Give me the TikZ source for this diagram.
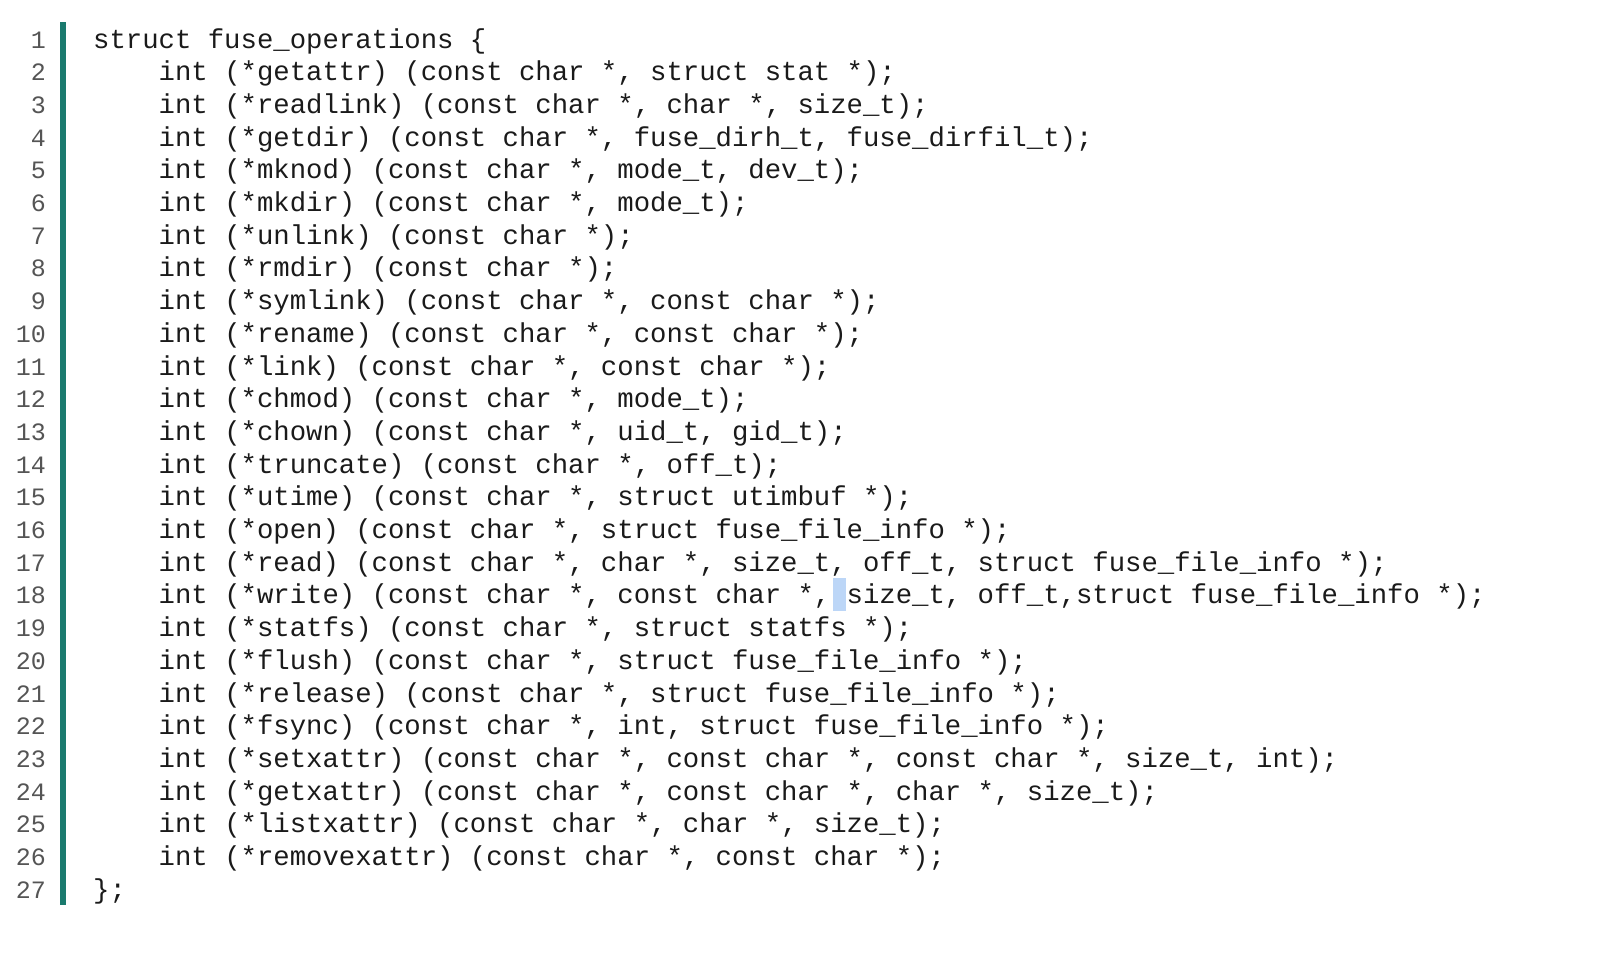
\documentclass[tikz,border=0pt]{standalone}
\usepackage{fontspec}
\newfontfamily\codefont{Liberation Mono}
\definecolor{barc}{HTML}{1A7A6E}
\definecolor{numc}{HTML}{555555}
\definecolor{txtc}{HTML}{1A1A1A}
\definecolor{hl}{HTML}{BCD6F7}
\tikzset{codeline/.style={anchor=base west,inner sep=0pt,text=txtc,font=\codefont\fontsize{27.3}{32}\selectfont},
lnum/.style={anchor=base east,inner sep=0pt,text=numc,font=\codefont\fontsize{25}{30}\selectfont}}
\begin{document}
\begin{tikzpicture}[x=1pt,y=1pt]
\useasboundingbox (0,0) rectangle (1600,-961);
\fill[hl] (833,-578) rectangle (846,-611);
\fill[barc] (60,-22) rectangle (66,-905);
\foreach \i/\t in {
1/{struct fuse\_operations \{},
2/{\ \ \ \ int (*getattr) (const char *, struct stat *);},
3/{\ \ \ \ int (*readlink) (const char *, char *, size\_t);},
4/{\ \ \ \ int (*getdir) (const char *, fuse\_dirh\_t, fuse\_dirfil\_t);},
5/{\ \ \ \ int (*mknod) (const char *, mode\_t, dev\_t);},
6/{\ \ \ \ int (*mkdir) (const char *, mode\_t);},
7/{\ \ \ \ int (*unlink) (const char *);},
8/{\ \ \ \ int (*rmdir) (const char *);},
9/{\ \ \ \ int (*symlink) (const char *, const char *);},
10/{\ \ \ \ int (*rename) (const char *, const char *);},
11/{\ \ \ \ int (*link) (const char *, const char *);},
12/{\ \ \ \ int (*chmod) (const char *, mode\_t);},
13/{\ \ \ \ int (*chown) (const char *, uid\_t, gid\_t);},
14/{\ \ \ \ int (*truncate) (const char *, off\_t);},
15/{\ \ \ \ int (*utime) (const char *, struct utimbuf *);},
16/{\ \ \ \ int (*open) (const char *, struct fuse\_file\_info *);},
17/{\ \ \ \ int (*read) (const char *, char *, size\_t, off\_t, struct fuse\_file\_info *);},
18/{\ \ \ \ int (*write) (const char *, const char *, size\_t, off\_t,struct fuse\_file\_info *);},
19/{\ \ \ \ int (*statfs) (const char *, struct statfs *);},
20/{\ \ \ \ int (*flush) (const char *, struct fuse\_file\_info *);},
21/{\ \ \ \ int (*release) (const char *, struct fuse\_file\_info *);},
22/{\ \ \ \ int (*fsync) (const char *, int, struct fuse\_file\_info *);},
23/{\ \ \ \ int (*setxattr) (const char *, const char *, const char *, size\_t, int);},
24/{\ \ \ \ int (*getxattr) (const char *, const char *, char *, size\_t);},
25/{\ \ \ \ int (*listxattr) (const char *, char *, size\_t);},
26/{\ \ \ \ int (*removexattr) (const char *, const char *);},
27/{\};}}{
  \node[lnum] (n\i) at (46,{-48-(\i-1)*32.7}) {\i};
  \node[codeline] (c\i) at (93,{-48-(\i-1)*32.7}) {\t};
}
\end{tikzpicture}
\end{document}
